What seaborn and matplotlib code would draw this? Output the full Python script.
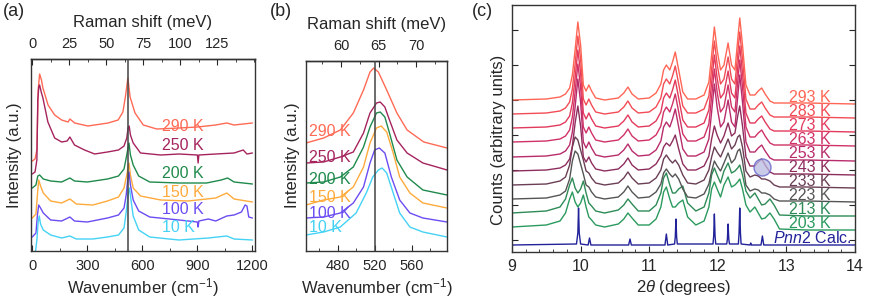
import matplotlib
matplotlib.use("Agg")
import matplotlib.pyplot as plt
from matplotlib.ticker import AutoMinorLocator, MultipleLocator
import pandas as pd
import seaborn as sns

# --- (a) Raman, full range: wavenumber (cm-1) / stacked intensity ---
A_290_X = [0, 15, 25, 32, 40, 50, 58, 86, 122, 160, 195, 205, 231, 303, 340, 413, 468, 494, 509,
           521, 533, 560, 605, 678, 800, 900, 1000, 1060, 1100, 1200]
A_290_Y = [90, 92, 101, 161, 177, 171, 163, 146, 136, 131, 129, 132, 128, 125, 126, 128, 131, 139, 156,
           173, 154, 138, 126, 122, 123, 124, 126, 128, 126, 128]
A_250_X = [0, 15, 25, 30, 36, 40, 50, 58, 85, 122, 160, 190, 205, 230, 285, 340, 410, 470, 500, 515,
           522, 528, 535, 550, 590, 700, 800, 900, 904, 908, 1000, 1100, 1150, 1170, 1200]
A_250_Y = [77, 79, 91, 151, 165, 166, 158, 153, 129, 113, 109, 110, 114, 106, 101, 97, 99, 101, 105, 113,
           123, 125, 116, 108, 98, 96, 97, 96, 88, 96, 97, 98, 101, 97, 98]
A_200_X = [0, 20, 30, 40, 60, 100, 160, 205, 230, 300, 410, 470, 500, 515, 527, 535, 550, 580, 640,
           800, 950, 1030, 1065, 1100, 1200]
A_200_Y = [63, 66, 75, 76, 72, 70, 69, 73, 70, 69, 72, 75, 82, 96, 108, 96, 86, 75, 69,
           68, 68, 71, 73, 69, 67]
A_150_X = [0, 20, 30, 35, 45, 60, 100, 160, 205, 240, 330, 410, 470, 500, 515, 527, 535, 550, 590,
           700, 850, 1000, 1060, 1100, 1200]
A_150_Y = [33, 37, 61, 71, 65, 58, 50, 48, 52, 47, 46, 50, 54, 63, 76, 88, 76, 63, 55,
           51, 50, 53, 58, 52, 49]
A_100_X = [0, 20, 28, 35, 45, 60, 100, 160, 205, 230, 300, 410, 470, 500, 512, 520, 527, 535, 550,
           580, 640, 800, 900, 904, 908, 960, 1000, 1060, 1100, 1140, 1160, 1170, 1180, 1200]
A_100_Y = [14, 18, 36, 46, 43, 38, 31, 30, 34, 30, 29, 33, 36, 43, 56, 71, 79, 66, 51,
           40, 34, 31, 29, 24, 30, 32, 30, 35, 36, 39, 46, 45, 34, 33]
A_10_X = [18, 25, 32, 38, 45, 60, 100, 160, 205, 240, 330, 410, 470, 500, 512, 522, 530, 538, 550,
          580, 640, 800, 960, 1060, 1100, 1200]
A_10_Y = [0, 11, 29, 35, 27, 21, 16, 13, 15, 12, 12, 14, 16, 23, 39, 56, 63, 51, 35,
          21, 14, 11, 13, 15, 12, 11]

# --- (b) Raman, zoom on the 520 cm-1 mode ---
B_290_X = [446, 465, 483, 497, 508, 515, 519, 524, 533, 544, 555, 573, 598]
B_290_Y = [108, 113, 121, 138, 161, 179, 183, 179, 161, 138, 121, 109, 103]
B_250_X = [446, 465, 483, 497, 508, 515, 522, 526, 531, 536, 544, 555, 572, 587, 598]
B_250_Y = [88, 89, 94, 99, 118, 138, 148, 149, 144, 131, 111, 98, 88, 84, 81]
B_200_X = [446, 465, 483, 497, 508, 515, 522, 526, 531, 536, 544, 555, 572, 598]
B_200_Y = [68, 69, 74, 84, 104, 124, 138, 139, 134, 118, 91, 74, 61, 56]
B_150_X = [446, 465, 483, 497, 508, 515, 522, 527, 533, 540, 547, 558, 572, 598]
B_150_Y = [46, 51, 54, 64, 84, 108, 123, 125, 119, 98, 74, 58, 48, 43]
B_100_X = [446, 465, 483, 497, 508, 515, 520, 525, 531, 538, 547, 558, 572, 598]
B_100_Y = [33, 34, 38, 48, 64, 88, 101, 103, 98, 74, 51, 38, 33, 29]
B_10_X = [446, 465, 483, 500, 511, 518, 524, 528, 533, 540, 547, 558, 572, 598]
B_10_Y = [16, 19, 24, 38, 58, 74, 81, 83, 78, 58, 38, 24, 19, 14]

RAMAN_LABELS = ["290 K", "250 K", "200 K", "150 K", "100 K", "10 K"]
RAMAN_COLORS = ["#FF6A55", "#A5245E", "#1F8A4C", "#FFAA3C", "#6C4CF2", "#45D2F5"]
A_LABEL_Y = [125, 106, 78, 59, 42, 23]
B_LABEL_Y = [119, 93, 71, 53, 38, 23]

# --- (c) XRD, 2theta grid shared by the measured patterns, heights above each baseline ---
XRD_X = [9.00, 9.50, 9.70, 9.78, 9.84, 9.88, 9.92, 9.96, 10.00, 10.04, 10.08, 10.12, 10.16, 10.22,
         10.35, 10.55, 10.63, 10.69, 10.75, 10.84, 11.00, 11.10, 11.17, 11.21, 11.25, 11.30, 11.34,
         11.38, 11.43, 11.49, 11.56, 11.68, 11.80, 11.87, 11.91, 11.95, 11.99, 12.04, 12.09, 12.15,
         12.20, 12.25, 12.29, 12.32, 12.36, 12.41, 12.47, 12.54, 12.59, 12.64, 12.69, 12.76, 12.82,
         12.90, 13.30, 14.00]
XRD_HIGH = [0, 1, 3, 6, 12, 25, 50, 78, 55, 15, 9, 15, 9, 2,
            0, 2, 7, 13, 6, 1, 2, 7, 16, 30, 35, 30, 38,
            48, 30, 8, 1, 1, 5, 18, 45, 73, 50, 30, 35, 57,
            35, 30, 60, 82, 55, 15, 5, 5, 9, 12, 6, -1, -3,
            -3, -3, -4]
XRD_243 = [0, 1, 3, 6, 12, 25, 48, 65, 45, 14, 9, 14, 8, 2,
           0, 2, 7, 13, 6, 1, 2, 7, 15, 24, 28, 25, 30,
           36, 22, 7, 1, 1, 5, 15, 32, 45, 36, 28, 35, 48,
           35, 38, 55, 65, 45, 14, 5, 5, 9, 12, 6, -1, -3,
           -3, -3, -4]
XRD_MID = [0, 1, 4, 8, 20, 38, 48, 45, 35, 25, 14, 12, 7, 2,
           0, 2, 7, 13, 7, 1, 2, 7, 15, 26, 30, 25, 22,
           25, 20, 10, 2, 1, 5, 15, 28, 38, 33, 28, 36, 46,
           36, 40, 48, 50, 38, 14, 8, 10, 9, 6, 6, 4, 0,
           -2, -2, -3]
XRD_LOW = [0, 2, 6, 14, 28, 35, 25, 20, 24, 32, 20, 10, 7, 2,
           0, 3, 8, 14, 9, 2, 2, 8, 20, 35, 40, 28, 20,
           20, 24, 27, 10, 2, 6, 20, 38, 45, 38, 30, 42, 50,
           40, 42, 45, 48, 38, 22, 15, 20, 14, 8, 9, 14, 8,
           -2, -3, -3]
XRD_TEMPS = ["293 K", "283 K", "273 K", "263 K", "253 K", "243 K", "233 K", "223 K", "213 K", "203 K"]
XRD_PROFILE = ["high", "high", "high", "high", "high", "243", "mid", "mid", "low", "low"]
XRD_OFFSET = [152, 138, 124, 110, 95, 81, 67, 53, 39, 25]
XRD_COLORS = ["#FF6655", "#F24C55", "#E23A5C", "#D03266", "#B92C6C",
              "#8E2E5E", "#6A3F55", "#555555", "#2E8B57", "#2A9A5E"]

CALC_X = [9.00, 9.94, 9.96, 9.97, 9.98, 10.00, 10.11, 10.13, 10.15, 10.70, 10.72, 10.74, 11.23, 11.25,
          11.27, 11.37, 11.38, 11.39, 11.40, 11.41, 11.93, 11.94, 11.95, 11.96, 11.97, 12.13, 12.14,
          12.15, 12.16, 12.17, 12.30, 12.31, 12.32, 12.33, 12.34, 12.47, 12.48, 12.49, 12.63, 12.65,
          12.67, 14.00]
CALC_Y = [0, 1, 12, 37, 12, 1, 0, 7, 0, 0, 6, 0, 0, 11,
          0, 1, 8, 26, 8, 1, 1, 9, 31, 9, 1, 1, 6,
          21, 6, 1, 1, 12, 37, 12, 1, 0, 2, 0, 0, 9,
          0, 0]
CALC_OFFSET = 7
CALC_COLOR = "#22229A"

# --- style ---
sns.set_style("ticks")
plt.rcParams["font.family"] = ["Liberation Sans", "DejaVu Sans"]
plt.rcParams["mathtext.fontset"] = "custom"
plt.rcParams["mathtext.rm"] = "Liberation Sans"
plt.rcParams["mathtext.it"] = "Liberation Sans:italic"
plt.rcParams["axes.edgecolor"] = "#333333"
plt.rcParams["axes.linewidth"] = 1.0

TICK_FS = 10.5
LABEL_FS = 12
TEMP_FS = 11.5
MEV = 8.0655  # cm-1 per meV

fig = plt.figure(figsize=(8.72, 3.07), dpi=100)
W, H = 872, 307


def add_axes(x0, y0, x1, y1):
    return fig.add_axes([x0 / W, 1 - y1 / H, (x1 - x0) / W, (y1 - y0) / H])


ax_a = add_axes(31, 59, 255, 251)
ax_b = add_axes(306, 61, 447, 251)
ax_c = add_axes(512, 5, 855, 252)

a_series = [(A_290_X, A_290_Y), (A_250_X, A_250_Y), (A_200_X, A_200_Y),
            (A_150_X, A_150_Y), (A_100_X, A_100_Y), (A_10_X, A_10_Y)]
b_series = [(B_290_X, B_290_Y), (B_250_X, B_250_Y), (B_200_X, B_200_Y),
            (B_150_X, B_150_Y), (B_100_X, B_100_Y), (B_10_X, B_10_Y)]

for ax, series, lab_x, lab_y in [(ax_a, a_series, 707, A_LABEL_Y), (ax_b, b_series, 449.5, B_LABEL_Y)]:
    ax.axvline(520, color="#444444", lw=1.1, zorder=5)
    for (xs, ys), name, col, ly in zip(series, RAMAN_LABELS, RAMAN_COLORS, lab_y):
        df = pd.DataFrame({"shift": xs, "intensity": ys})
        sns.lineplot(data=df, x="shift", y="intensity", ax=ax, color=col, lw=1.0,
                     sort=False, estimator=None)
        ax.text(lab_x, ly, name, color=col, fontsize=TEMP_FS, ha="left", va="center")
    ax.set_yticks([])
    ax.set_ylabel("")
    ax.set_xlabel("Wavenumber (cm$^{-1}$)", fontsize=LABEL_FS, labelpad=2)
    ax.tick_params(axis="x", direction="in", labelsize=TICK_FS, pad=6, length=4)
    ax.tick_params(axis="x", which="minor", direction="in", length=2)
    ax.xaxis.set_minor_locator(AutoMinorLocator(2))
    top = ax.secondary_xaxis("top", functions=(lambda x: x / MEV, lambda m: m * MEV))
    top.tick_params(direction="in", labelsize=TICK_FS, pad=6, length=4)
    top.tick_params(which="minor", direction="in", length=2)
    top.set_xlabel("Raman shift (meV)", fontsize=LABEL_FS, labelpad=7)
    top.xaxis.set_minor_locator(AutoMinorLocator(2))
    ax._top = top

ax_a.set_xlim(-7, 1214)
ax_a.set_ylim(0, 192)
ax_a.set_xticks([0, 300, 600, 900, 1200])
ax_a._top.set_xticks([0, 25, 50, 75, 100, 125])

ax_b.set_xlim(446, 598)
ax_b.set_ylim(0, 190)
ax_b.set_xticks([480, 520, 560])
ax_b._top.set_xticks([60, 65, 70])

fig.text(15 / W, 1 - 155 / H, "Intensity (a.u.)", rotation=90, fontsize=LABEL_FS, ha="center", va="center")
fig.text(292 / W, 1 - 155 / H, "Intensity (a.u.)", rotation=90, fontsize=LABEL_FS, ha="center", va="center")

# --- (c) stacked XRD patterns ---
profiles = {"high": XRD_HIGH, "243": XRD_243, "mid": XRD_MID, "low": XRD_LOW}
rows = []
for temp, prof, off in zip(XRD_TEMPS, XRD_PROFILE, XRD_OFFSET):
    for x, h in zip(XRD_X, profiles[prof]):
        rows.append({"two_theta": x, "counts": h + off, "temp": temp})
xrd = pd.DataFrame(rows)
sns.lineplot(data=xrd, x="two_theta", y="counts", hue="temp", hue_order=XRD_TEMPS[::-1],
             palette=dict(zip(XRD_TEMPS, XRD_COLORS)), ax=ax_c, lw=1.0, sort=False,
             estimator=None, legend=False)
calc = pd.DataFrame({"two_theta": CALC_X, "counts": [v + CALC_OFFSET for v in CALC_Y]})
sns.lineplot(data=calc, x="two_theta", y="counts", ax=ax_c, color=CALC_COLOR, lw=1.0,
             sort=False, estimator=None)

for temp, off, col in zip(XRD_TEMPS, XRD_OFFSET, XRD_COLORS):
    ax_c.text(13.64, off + 3, temp, color=col, fontsize=TEMP_FS, ha="right", va="center")
ax_c.text(13.96, CALC_OFFSET + 7, r"$\mathit{Pnn2}$ Calc.", color=CALC_COLOR,
          fontsize=TEMP_FS, ha="right", va="center")

ax_c.scatter([12.65], [85], s=150, facecolor="#B9B9E2", edgecolor="#5A5AC8",
             alpha=0.75, lw=1.0, zorder=6)

ax_c.set_xlim(9, 14)
ax_c.set_ylim(0, 247)
ax_c.set_xticks([9, 10, 11, 12, 13, 14])
ax_c.xaxis.set_minor_locator(MultipleLocator(0.2))
ax_c.set_yticks([12, 47, 82, 117, 152, 187, 222])
ax_c.set_yticklabels([])
ax_c.tick_params(axis="x", direction="in", labelsize=TICK_FS + 1, pad=5, length=4)
ax_c.tick_params(axis="x", which="minor", direction="in", length=2.5)
ax_c.tick_params(axis="y", direction="in", left=True, right=True, length=4)
ax_c.set_xlabel(r"2$\mathit{\theta}$ (degrees)", fontsize=LABEL_FS, labelpad=3)
ax_c.set_ylabel("")
fig.text(498 / W, 1 - 140 / H, "Counts (arbitrary units)", rotation=90, fontsize=LABEL_FS,
         ha="center", va="center")

for lab, px in [("(a)", 3), ("(b)", 270), ("(c)", 472)]:
    fig.text(px / W, 1 - 12 / H, lab, fontsize=13, ha="left", va="center")

fig.savefig("out.png", dpi=100)
